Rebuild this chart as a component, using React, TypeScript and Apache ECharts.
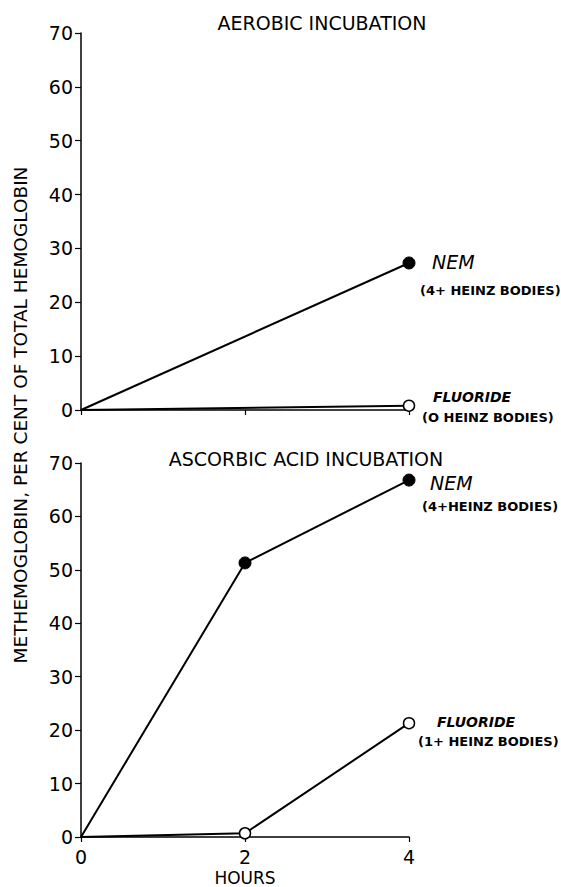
import React, { useEffect, useRef } from "react";
import * as echarts from "echarts";

const hourTicks = [0, 2, 4];
const topNEM: [number, number][] = [[0, 0], [4, 27.3]];
const topFluoride: [number, number][] = [[0, 0], [4, 0.8]];
const bottomNEM: [number, number][] = [[0, 0], [2, 51.3], [4, 66.8]];
const bottomFluoride: [number, number][] = [[0, 0], [2, 0.7], [4, 21.3]];

const FONT = "DejaVu Sans";

export default function App() {
  const ref = useRef<HTMLDivElement>(null);
  useEffect(() => {
    if (!ref.current) return;
    const chart = echarts.init(ref.current, undefined, { renderer: "svg" });
    const mkPts = (arr: [number, number][]) =>
      arr.map((p, i) => (i === 0 ? { value: p, symbol: "none" } : { value: p }));
    const yAxisBase = {
      type: "value" as const,
      min: 0,
      max: 70,
      interval: 10,
      splitLine: { show: false },
      axisLine: { show: true, lineStyle: { color: "#000", width: 1.5 } },
      axisTick: { show: true, inside: false, length: 6, lineStyle: { color: "#000", width: 1.2 } },
      axisLabel: { color: "#000", fontSize: 19, fontFamily: FONT, margin: 8 },
    };
    const xAxisBase = {
      type: "value" as const,
      min: 0,
      max: 4,
      interval: 2,
      splitLine: { show: false },
      axisLine: { show: true, lineStyle: { color: "#000", width: 1.5 } },
      axisTick: { show: true, length: 5, lineStyle: { color: "#000", width: 1.2 } },
    };
    const lineStyle = { color: "#000", width: 2 };
    const filled = { color: "#000", borderColor: "#000", borderWidth: 1 };
    const open = { color: "#fff", borderColor: "#000", borderWidth: 1.5 };
    const txt = (text: string, x: number, y: number, font: any, align = "left") => ({
      type: "text",
      x,
      y,
      style: {
        text,
        fill: "#000",
        fontFamily: FONT,
        textAlign: align,
        textVerticalAlign: "middle",
        ...font,
      },
    });
    const italic = { fontSize: 19, fontStyle: "italic" };
    const italicSmall = { fontSize: 14, fontStyle: "italic", fontWeight: "bold" };
    const note = { fontSize: 13, fontWeight: "bold" };
    chart.setOption({
      animation: false,
      backgroundColor: "#fff",
      grid: [
        { left: 81, top: 33, width: 328, height: 377 },
        { left: 81, top: 463, width: 328, height: 377 },
      ],
      xAxis: [
        { ...xAxisBase, gridIndex: 0, axisLabel: { show: false } },
        {
          ...xAxisBase,
          gridIndex: 1,
          axisLabel: {
            color: "#000",
            fontSize: 19,
            fontFamily: FONT,
            margin: 10,
            formatter: (v: number) => (hourTicks.includes(v) ? String(v) : ""),
          },
          name: "HOURS",
          nameLocation: "middle",
          nameGap: 32,
          nameTextStyle: { color: "#000", fontSize: 17, fontFamily: FONT },
        },
      ],
      yAxis: [
        { ...yAxisBase, gridIndex: 0 },
        { ...yAxisBase, gridIndex: 1 },
      ],
      series: [
        {
          type: "line", xAxisIndex: 0, yAxisIndex: 0, data: mkPts(topNEM),
          symbol: "circle", symbolSize: 12, lineStyle, itemStyle: filled,
        },
        {
          type: "line", xAxisIndex: 0, yAxisIndex: 0, data: mkPts(topFluoride),
          symbol: "circle", symbolSize: 11, lineStyle, itemStyle: open,
        },
        {
          type: "line", xAxisIndex: 1, yAxisIndex: 1, data: mkPts(bottomNEM),
          symbol: "circle", symbolSize: 12, lineStyle, itemStyle: filled,
        },
        {
          type: "line", xAxisIndex: 1, yAxisIndex: 1, data: mkPts(bottomFluoride),
          symbol: "circle", symbolSize: 11, lineStyle, itemStyle: open,
        },
      ],
      graphic: [
        txt("AEROBIC INCUBATION", 322, 23, { fontSize: 19 }, "center"),
        txt("ASCORBIC ACID INCUBATION", 306, 459, { fontSize: 19 }, "center"),
        {
          type: "text",
          x: 20,
          y: 415,
          rotation: Math.PI / 2,
          style: {
            text: "METHEMOGLOBIN, PER CENT OF TOTAL HEMOGLOBIN",
            fill: "#000",
            fontFamily: FONT,
            fontSize: 18.5,
            textAlign: "center",
            textVerticalAlign: "middle",
          },
        },
        txt("NEM", 432, 262, italic),
        txt("(4+ HEINZ BODIES)", 420, 290, note),
        txt("FLUORIDE", 433, 397, italicSmall),
        txt("(O HEINZ BODIES)", 422, 417, note),
        txt("NEM", 430, 483, italic),
        txt("(4+HEINZ BODIES)", 422, 506, note),
        txt("FLUORIDE", 437, 722, italicSmall),
        txt("(1+ HEINZ BODIES)", 418, 741, note),
      ],
    });
    return () => chart.dispose();
  }, []);
  return (
    <div
      ref={ref}
      style={{ position: "fixed", left: 0, top: 0, width: 561, height: 887, background: "#fff" }}
    />
  );
}
